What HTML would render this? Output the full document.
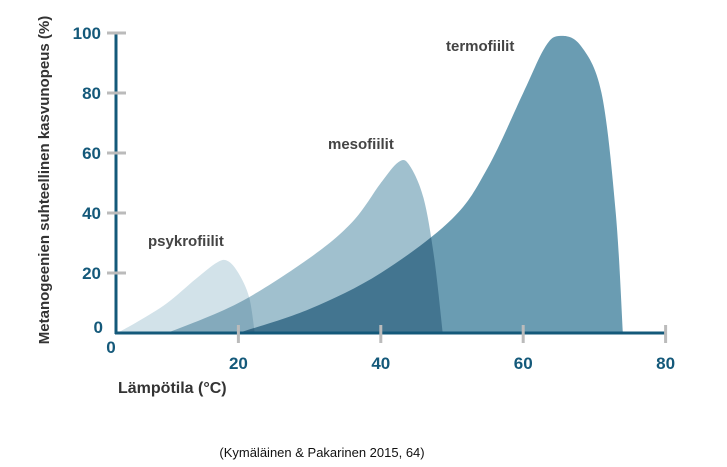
<!DOCTYPE html>
<html><head><meta charset="utf-8"><style>
body{margin:0;background:#fff;width:727px;height:467px;overflow:hidden;font-family:"Liberation Sans",sans-serif}
svg{position:absolute;left:0;top:0}
.t{font-family:"Liberation Sans Narrow","Liberation Sans",sans-serif;font-weight:bold}
</style></head><body>
<svg width="727" height="467">
<g id="areas" style="isolation:isolate"></g>
<g id="axes"></g>
<text class="t" x="148" y="246" font-size="15" fill="#444">psykrofiilit</text>
<text class="t" x="328" y="149" font-size="15" fill="#444">mesofiilit</text>
<text class="t" x="446" y="51" font-size="15" fill="#444">termofiilit</text>
<text class="t" transform="translate(49,180) rotate(-90)" text-anchor="middle" font-size="15" fill="#333">Metanogeenien suhteellinen kasvunopeus (%)</text>
<text class="t" x="118" y="393" font-size="16" fill="#333">Lämpötila (°C)</text>
<text x="322" y="457" text-anchor="middle" font-size="13" fill="#111">(Kymäläinen &amp; Pakarinen 2015, 64)</text>
</svg>
<script>
const xTicks=[0,20,40,60,80];
const yTicks=[0,20,40,60,80,100];
const psyX=[3,6,10,14,17,18.5,20,21.5,22.3];
const psyY=[0,4,10,18,23.5,24,20,12,0];
const mesX=[10,20,30,36,40,42.5,44,46,47.5,48.7];
const mesY=[0,10,25,37,50,57,56,45,25,0];
const terX=[20,30,40,50,55,60,63,65,68,71,73,74];
const terY=[0,8,20,38,55,80,95,99,96,80,40,0];
const X=v=>96+7.12*v, Y=v=>333-3.0*v;
const NS="http://www.w3.org/2000/svg";
function mk(tag,at,parent){const e=document.createElementNS(NS,tag);for(const k in at)e.setAttribute(k,at[k]);parent.appendChild(e);return e;}
function smooth(xs,ys){const p=xs.map((x,i)=>[X(x),Y(ys[i])]);let d=`M${p[0][0]},${p[0][1]}`;
for(let i=0;i<p.length-1;i++){const p0=p[i-1]||p[i],p1=p[i],p2=p[i+1],p3=p[i+2]||p2;
d+=` C${p1[0]+(p2[0]-p0[0])/6},${p1[1]+(p2[1]-p0[1])/6} ${p2[0]-(p3[0]-p1[0])/6},${p2[1]-(p3[1]-p1[1])/6} ${p2[0]},${p2[1]}`;}
return d+'Z';}
const areas=document.getElementById('areas');
const t=mk('path',{d:smooth(terX,terY),fill:'#6a9cb2'},areas);


const m=mk('path',{d:smooth(mesX,mesY),fill:'#a0c0ce',style:'mix-blend-mode:multiply'},areas);


const p=mk('path',{d:smooth(psyX,psyY),fill:'#d2e2e9',style:'mix-blend-mode:multiply'},areas);


const ax=document.getElementById('axes');
const ya=mk('line',{x1:116,y1:32,x2:116,y2:334,stroke:'#14597a','stroke-width':3},ax);


const xa=mk('line',{x1:115,y1:333,x2:666,y2:333,stroke:'#14597a','stroke-width':3},ax);


yTicks.forEach(v=>{
 if(v>0){const l=mk('line',{x1:107,y1:Y(v),x2:126,y2:Y(v),stroke:'#bbb','stroke-width':3},ax);
 
 }
 const tx=mk('text',{x:v==0?103:101,y:Y(v)+6-(v==0?6:0),'text-anchor':'end','font-size':17,fill:'#14597a',class:'t'},ax);
 tx.textContent=v;
 
 
});
xTicks.forEach(v=>{
 if(v>0){const l=mk('line',{x1:X(v),y1:325,x2:X(v),y2:343,stroke:'#bbb','stroke-width':3},ax);
 
 }
 const tx=mk('text',{x:v==0?111:X(v),y:v==0?353:369,'text-anchor':'middle','font-size':17,fill:'#14597a',class:'t'},ax);
 tx.textContent=v;
 
 
});
</script>
</body></html>
